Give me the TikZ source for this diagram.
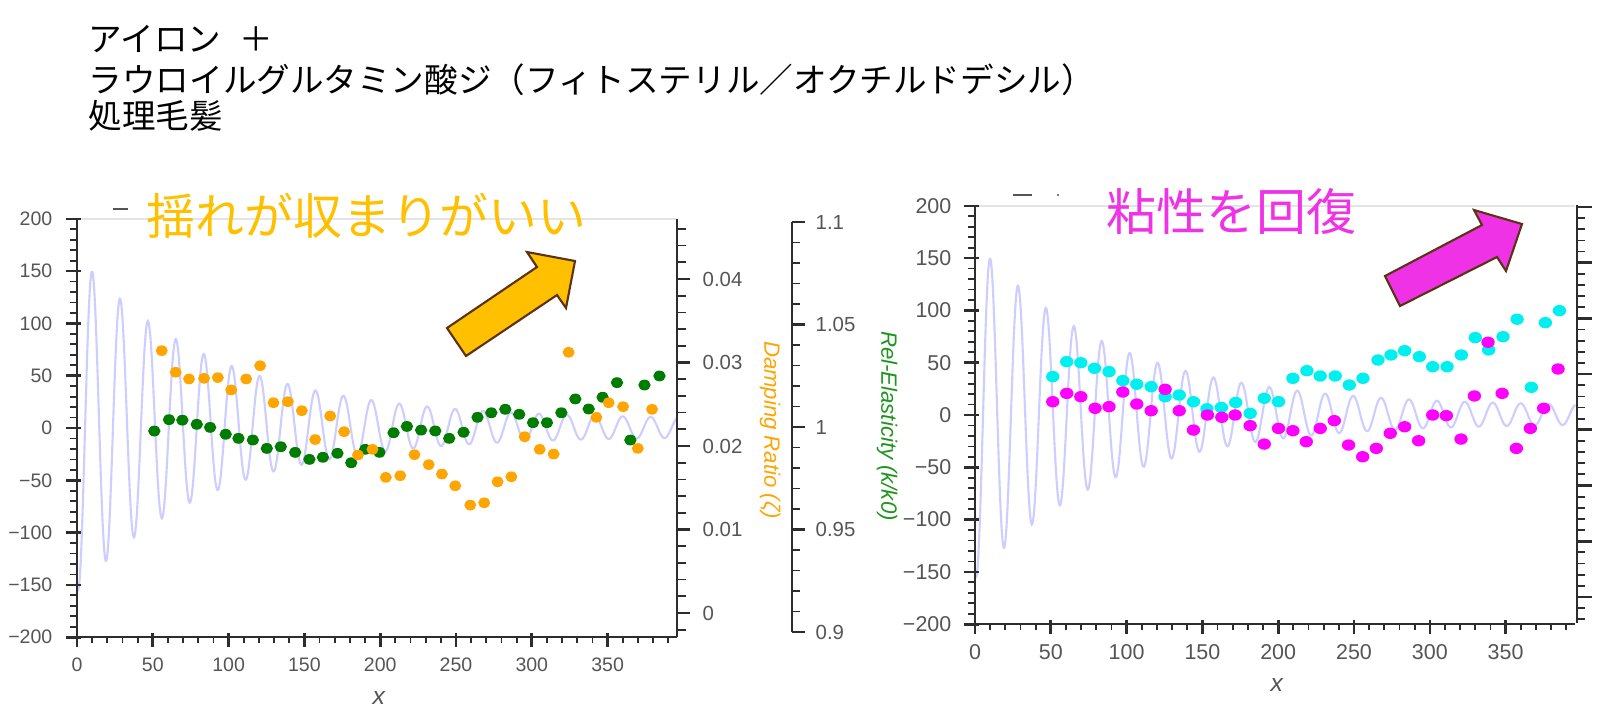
\documentclass[tikz,border=0pt]{standalone}
\usepackage{fontspec}
\setmainfont{Liberation Sans}
\newfontfamily\jpfont{Noto Sans CJK JP}
\usepackage{tikz}

\definecolor{tickgray}{RGB}{85,85,85}
\definecolor{axisgray}{RGB}{45,45,45}
\definecolor{framegray}{RGB}{228,228,228}
\definecolor{wavecol}{RGB}{205,205,255}
\definecolor{dampcol}{RGB}{255,165,0}
\definecolor{elastcol}{RGB}{0,125,0}
\definecolor{elastlab}{RGB}{30,150,30}
\definecolor{cyandot}{RGB}{0,240,240}
\definecolor{magdot}{RGB}{255,0,255}
\definecolor{goldtxt}{RGB}{255,192,0}
\definecolor{pinktxt}{RGB}{240,50,230}
\definecolor{arrowedge}{RGB}{90,50,20}

\newdimen\pxu \pxu=0.01cm

\tikzset{
  axisline/.style={draw=axisgray, line width=0.6pt},
  majortick/.style={draw=axisgray, line width=0.75pt},
  minortick/.style={draw=axisgray, line width=0.5pt},
  ticklabel/.style={text=tickgray, inner sep=0pt},
  xlab/.style={text=tickgray, inner sep=0pt, font=\itshape\fontsize{7}{8}\selectfont},
  sidelabel/.style={inner sep=0pt, rotate=-90, font=\itshape\fontsize{6.3}{7}\selectfont},
  titletext/.style={inner sep=0pt, anchor=west, font=\jpfont\fontsize{9.55}{11}\selectfont},
  wave/.style={draw=wavecol, line width=0.6pt},
  blockarrow/.style={draw=arrowedge, line width=0.6pt, line join=miter}
}

% frame, left and bottom axes and the oscillation of one plot
% #1 name prefix, #2 label gap in px, #3 label size in pt
\newcommand{\plotaxes}[3]{%
  \draw[wave] plot[domain=0:396, samples=900] (\x,{osc(\x)});
  \draw[framegray, line width=0.5pt] (0,200) -- (396,200);
  \draw[axisline] (0,200) -- (0,-200) -- (396,-200);
  \foreach \yv in {-190,-180,...,190}
    \draw[minortick] ([xshift=-7\pxu]0,\yv) -- (0,\yv);
  \foreach \yv/\lab [count=\k] in {-200/−200,-150/−150,-100/−100,-50/−50,0/0,50/50,100/100,150/150,200/200}{
    \draw[majortick] ([xshift=-11\pxu]0,\yv) -- ([xshift=4\pxu]0,\yv);
    \node[ticklabel, anchor=east, font=\fontsize{#3}{#3}\selectfont] (#1y\k) at ([xshift=-#2\pxu]0,\yv) {\lab};
  }
  \foreach \xv in {10,20,...,390}
    \draw[minortick] (\xv,-200) -- ([yshift=-6\pxu]\xv,-200);
  \foreach \xv [count=\k] in {0,50,...,350}{
    \draw[majortick] ([yshift=4\pxu]\xv,-200) -- ([yshift=-10\pxu]\xv,-200);
    \node[ticklabel, font=\fontsize{#3}{#3}\selectfont] (#1x\k) at ([yshift=-28\pxu]\xv,-200) {\xv};
  }
  \node[xlab] (#1xl) at ([yshift=-61\pxu]199,-200) {x};
}

\begin{document}
\begin{tikzpicture}[x=0.01cm, y=-0.01cm,
  declare function={osc(\t)=5*exp(-\t/150)+(8+137*exp(-(\t-10)/89))*cos((\t-10)/18.42*360);}]
\path[use as bounding box, fill=white] (0,0) rectangle (1602,714);

% title
\node[titletext] (title1) at (88,39) {アイロン\hspace{0.55em}＋};
\node[titletext] (title2) at (88,80) {ラウロイルグルタミン酸ジ（フィトステリル／オクチルドデシル）};
\node[titletext] (title3) at (88,116) {処理毛髪};

% left plot
\begin{scope}[shift={(77,428)}, x=0.01515cm, y=0.01045cm]
  \plotaxes{L}{24}{5.55}
  \foreach \xv/\yv in {51/-2.9,60.7/8,69.5/7.5,79/3.5,87.8/0.6,98.1/-6,106.5/-9.9,116/-11.5,
      125.2/-19.5,134.4/-17.9,143.9/-23.3,153.3/-30,162.2/-28,171.8/-24.2,180.9/-33.2,
      190.1/-20.4,199.5/-23.3,208.8/-4.5,217.6/1.5,227/-2,236.3/-2.8,245.5/-9.9,255/-4.1,
      264.2/10.2,273.3/14.6,282.5/17.9,291.7/13.1,300.8/5.1,310/5.1,319.5/14.6,328.7/27.8,
      337.5/18.2,346.7/29.4,356.2/43.4,365/-11.5,374.3/41.1,384.2/49.8}
    \fill[elastcol] (\xv,\yv) ellipse [x radius=6.2\pxu, y radius=5.4\pxu];
  \foreach \xv/\yv in {55.9/74,65.1/53.3,73.9/46.9,83.8/47.5,92.9/48.2,101.7/36.4,111.6/46.9,
      120.8/59.6,129.6/24.2,139.1/25.2,148.3/16.6,157.1/-11,167/11.5,176.2/-3.5,185.3/-25.8,
      194.9/-20.4,203.7/-47.2,213.2/-45.6,222.6/-25.5,232/-35,240.7/-44,249.5/-55.2,
      259.4/-73.7,268.6/-71.5,277.4/-51.4,286.5/-46.6,295.3/-8.3,305.2/-20.4,314.4/-24.9,
      324.3/72.4,342.6/10.2,350.7/24.2,360.2/20.4,369.9/-19.5,379.3/17.9}
    \fill[dampcol] (\xv,\yv) ellipse [x radius=6\pxu, y radius=5.3\pxu];
\end{scope}
\draw[tickgray, line width=0.6pt] (113,209) -- (128,209);

% damping ratio axis
\draw[axisline] (677,219) -- (677,637);
\foreach \i in {-1,...,23}
  \draw[minortick] (677,{613-16.7*\i}) -- ++(9,0);
\foreach \i/\lab in {0/0,1/0.01,2/0.02,3/0.03,4/0.04}{
  \draw[majortick] (677,{613-83.5*\i}) -- ++(13,0);
  \node[ticklabel, anchor=west, font=\fontsize{5.8}{6}\selectfont] (damp\i) at (702,{613-83.5*\i}) {\lab};
}
\node[sidelabel, text=dampcol] (damplab) at (770,430) {Damping Ratio (ζ)};

% rel-elasticity axis
\draw[axisline] (792,222) -- (792,632);
\foreach \i in {0,...,20}
  \draw[minortick] (792,{222+20.5*\i}) -- ++(8,0);
\foreach \i/\lab in {0/1.1,1/1.05,2/1,3/0.95,4/0.9}{
  \draw[majortick] (792,{222+102.5*\i}) -- ++(13,0);
  \node[ticklabel, anchor=west, font=\fontsize{5.8}{6}\selectfont] (elast\i) at (815,{222+102.5*\i}) {\lab};
}
\node[sidelabel, text=elastlab] (elastlab) at (887,426) {Rel-Elasticity (k/k0)};

% right plot
\begin{scope}[shift={(975,415)}, x=0.01515cm, y=0.01045cm]
  \plotaxes{R}{23}{6.1}
  \foreach \xv/\yv in {51.3/36.7,60.5/51,69.8/50,78.8/44.7,88.4/41.5,97.5/32.9,106.7/29.4,
      116.2/27.1,125.4/17.5,134.7/19.1,144.1/12.7,153/6,162.5/7.2,172/12,181.5/1.6,190.8/16,
      200.2/12.8,209.7/35.1,218.9/42.4,227.7/37.3,237.6/37.3,246.9/28.7,255.9/35.1,265.8/52.6,
      274.4/57.4,283.4/61.5,293.1/55.8,301.9/46.2,311.4/46.2,320.8/57.4,330/74,338.8/62.2,
      348.3/74.9,357.6/91.6,367/26.5,376.2/88.3,385.5/99.8}
    \fill[cyandot] (\xv,\yv) ellipse [x radius=6.7\pxu, y radius=5.7\pxu];
  \foreach \xv/\yv in {51.3/12.7,60.5/20.7,69.8/17.5,79.2/6.4,88.4/8,97.5/22,106.7/10.5,
      116.2/4.1,125.4/24.6,134.7/4.1,144.1/-14.4,153.3/0,162.8/-2.2,171.6/0,181.5/-10.2,
      190.8/-27.8,200.2/-12.8,209.7/-15,218.5/-25.5,227.7/-12.8,237/-5.4,246.4/-28.7,
      255.7/-39.9,264.7/-31.9,273.9/-17.5,283.4/-11.2,292.6/-24.6,301.9/0,310.9/-0.6,
      320.6/-23,329.4/18.2,338.4/69.6,347.7/20.7,357.1/-31.9,366.3/-12.8,375.1/6.4,384.6/44}
    \fill[magdot] (\xv,\yv) ellipse [x radius=6.7\pxu, y radius=5.7\pxu];
\end{scope}
\draw[tickgray, line width=0.6pt] (1013,195) -- (1032,195);
\fill[tickgray] (1058,195) circle [radius=1.2\pxu];

% right-hand axis of the right plot
\draw[axisline] (1577,205) -- (1577,623);
\foreach \i in {0,...,37}
  \draw[minortick] (1577,{207+11.14*\i}) -- ++(8,0);
\foreach \i in {0,...,7}
  \draw[majortick] (1577,{207+55.7*\i}) -- ++(15,0);

% notes and arrows
\node[inner sep=0pt, anchor=west, text=goldtxt, font=\jpfont\fontsize{13.9}{15}\selectfont] (yure) at (146,216) {揺れが収まりがいい};
\node[inner sep=0pt, anchor=west, text=pinktxt, font=\jpfont\fontsize{14.2}{15}\selectfont] (nensei) at (1106,212) {粘性を回復};
\filldraw[blockarrow, fill=goldtxt] (447,328) -- (537,267) -- (527,252) -- (575,261) -- (566,308) -- (557,295) -- (466,356) -- cycle;
\filldraw[blockarrow, fill=pinktxt] (1385,276) -- (1482,225) -- (1474,210) -- (1522,224) -- (1506,271) -- (1497,257) -- (1400,306) -- cycle;
\end{tikzpicture}
\end{document}
